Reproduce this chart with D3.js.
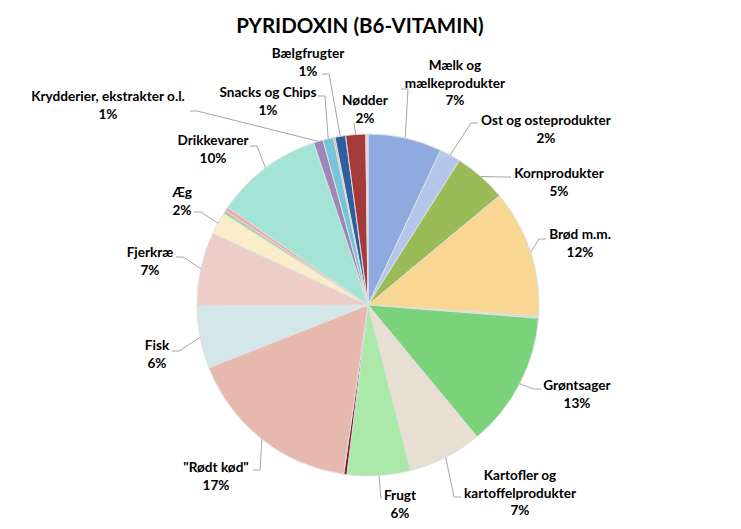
<!DOCTYPE html>
<html>
<head>
<meta charset="utf-8">
<script src="https://cdn.jsdelivr.net/npm/d3@7"></script>
<style>
  html, body { margin: 0; padding: 0; background: #fff; }
  svg { display: block; font-family: Lato, "Open Sans", sans-serif; }
</style>
</head>
<body>
<svg id="chart" width="741" height="529"></svg>
<script>
// ---- Data (clockwise from 12 o'clock) ----
const categories = [
  "Mælk og mælkeprodukter", "Ost og osteprodukter", "Kornprodukter", "Brød m.m.", "Sukker",
  "Grøntsager", "Kartofler og kartoffelprodukter", "Frugt", "Juice", "\"Rødt kød\"",
  "Fisk", "Fjerkræ", "Æg", "Fedtstoffer", "Slik", "Drikkevarer",
  "Krydderier, ekstrakter o.l.", "Snacks og Chips", "Andet", "Bælgfrugter", "Nødder", "Diverse"
];
const values = [
  7.0, 2.0, 5.0, 12.1, 0.2,
  12.8, 7.0, 6.0, 0.3, 16.8,
  5.9, 7.0, 2.1, 0.3, 0.4, 10.2,
  0.9, 1.0, 0.15, 1.0, 1.9, 0.2
];
const colors = [
  "#8eaadf", "#b4c7ea", "#9bbb59", "#f7d791", "#d9d9d9",
  "#7ad27a", "#e8ded2", "#aae9aa", "#7b1d22", "#e6b8ae",
  "#d3e7eb", "#eccdc7", "#f9eec9", "#a9d18e", "#f4a6b2", "#a3e4d7",
  "#9c87b9", "#76c4d8", "#f2a03c", "#2f5f9e", "#a43a3a", "#f3c5d6"
];
// label text lines for labelled slices (index -> lines)
const labelLines = {
  0: ["Mælk og", "mælkeprodukter"],
  1: ["Ost og osteprodukter"],
  2: ["Kornprodukter"],
  3: ["Brød m.m."],
  5: ["Grøntsager"],
  6: ["Kartofler og", "kartoffelprodukter"],
  7: ["Frugt"],
  9: ["\"Rødt kød\""],
  10: ["Fisk"],
  11: ["Fjerkræ"],
  12: ["Æg"],
  15: ["Drikkevarer"],
  16: ["Krydderier, ekstrakter o.l."],
  17: ["Snacks og Chips"],
  19: ["Bælgfrugter"],
  20: ["Nødder"]
};

// ---- Layout (label placement, not data) ----
const labelLayout = {
  0:  {x: 455, y: 70,  ax: 401, ay: 89,  dir: 1},
  1:  {x: 546, y: 125, ax: 478, ay: 123, dir: -1},
  2:  {x: 559, y: 178, ax: 511, ay: 177, dir: -1},
  3:  {x: 580, y: 239, ax: 546, ay: 239, dir: -1},
  5:  {x: 577, y: 390, ax: 541, ay: 389, dir: -1},
  6:  {x: 520, y: 480, ax: 461, ay: 497, dir: -1},
  7:  {x: 400, y: 500, ax: 381, ay: 499, dir: 0},
  9:  {x: 216, y: 472, ax: 253, ay: 470, dir: 1},
  10: {x: 157, y: 350, ax: 172, ay: 351, dir: 1},
  11: {x: 150, y: 257, ax: 176, ay: 257, dir: 1},
  12: {x: 182, y: 197, ax: 194, ay: 212, dir: 1},
  15: {x: 213, y: 145, ax: 250, ay: 146, dir: 1},
  16: {x: 108, y: 101, ax: 190, ay: 111, dir: 1},
  17: {x: 268, y: 97,  ax: 318, ay: 96,  dir: 1},
  19: {x: 308, y: 58,  ax: 322, ay: 74,  dir: 1},
  20: {x: 365, y: 105, ax: 354, ay: 123, dir: 0}
};

const W = 741, H = 529;
const cx = 368, cy = 305, R = 171;
const svg = d3.select("#chart");

svg.append("text")
  .attr("x", 360).attr("y", 33)
  .attr("text-anchor", "middle")
  .attr("font-size", 20.5).attr("font-weight", 700)
  .attr("fill", "#000")
  .text("PYRIDOXIN (B6-VITAMIN)");

const total = d3.sum(values);
const pie = d3.pie().sort(null).value(d => d)(values);
const arc = d3.arc().innerRadius(0).outerRadius(R);

const g = svg.append("g").attr("transform", `translate(${cx},${cy})`);
g.selectAll("path.slice").data(pie).join("path")
  .attr("class", "slice")
  .attr("d", arc)
  .attr("fill", (d, i) => colors[i])
  .attr("stroke", "#e0e0e0")
  .attr("stroke-width", 1);

// leader lines and labels
const leaders = svg.append("g");
const labels = svg.append("g");
Object.keys(labelLines).forEach(k => {
  const i = +k;
  const d = pie[i];
  const lay = labelLayout[i];
  const mid = (d.startAngle + d.endAngle) / 2;
  const px = cx + R * Math.sin(mid);
  const py = cy - R * Math.cos(mid);
  const pts = [[lay.ax, lay.ay]];
  if (lay.dir !== 0) pts.push([lay.ax + lay.dir * 7, lay.ay]);
  pts.push([px, py]);
  leaders.append("polyline")
    .attr("points", pts.map(p => p.join(",")).join(" "))
    .attr("fill", "none")
    .attr("stroke", "#a6a6a6")
    .attr("stroke-width", 1);

  const lines = labelLines[i].concat([Math.round(values[i] / total * 100) + "%"]);
  const t = labels.append("text")
    .attr("text-anchor", "middle")
    .attr("font-size", 13.6).attr("font-weight", 700)
    .attr("fill", "#000");
  lines.forEach((ln, j) => {
    t.append("tspan").attr("x", lay.x).attr("y", lay.y + j * 17.5).text(ln);
  });
});
</script>
</body>
</html>
